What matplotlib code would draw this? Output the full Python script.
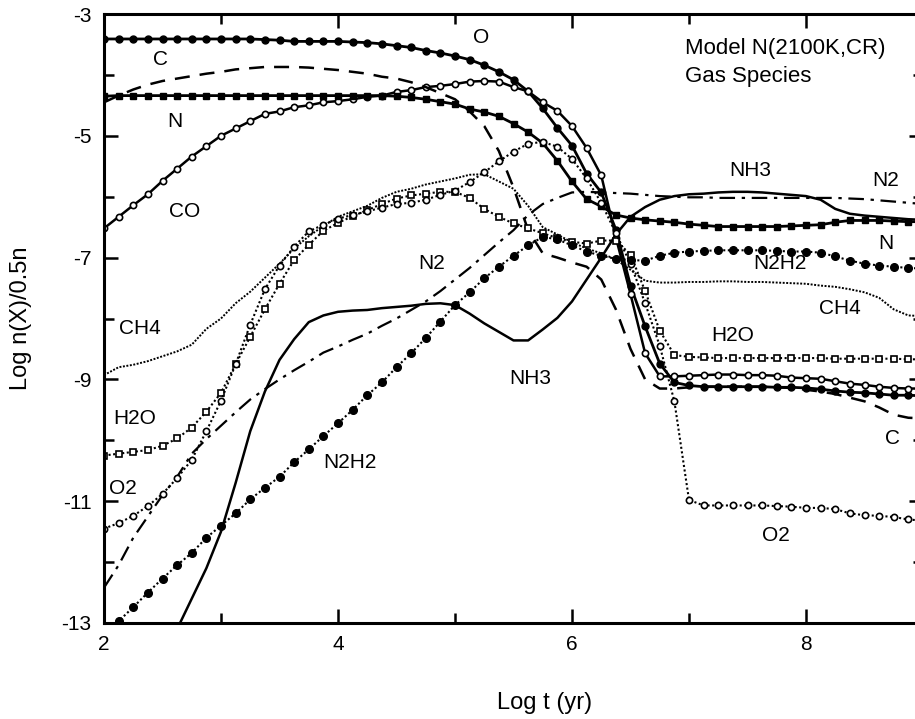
import numpy as np
import matplotlib
matplotlib.use("Agg")
import matplotlib.pyplot as plt
from matplotlib.ticker import MultipleLocator

plt.rcParams["axes.unicode_minus"] = False

# log t grid, 2.0 ... 9.0 in steps of 0.125
log_t = np.arange(2.0, 9.0001, 0.125)

O = [-3.41, -3.41, -3.41, -3.41, -3.41, -3.41, -3.41, -3.41,
     -3.41, -3.41, -3.41, -3.42, -3.43, -3.45, -3.45, -3.45,
     -3.45, -3.46, -3.47, -3.49, -3.52, -3.55, -3.60, -3.64,
     -3.69, -3.75, -3.84, -3.95, -4.08, -4.27, -4.55, -4.87,
     -5.16, -5.62, -5.93, -6.54, -7.46, -8.13, -8.74, -9.05,
     -9.10, -9.12, -9.12, -9.12, -9.12, -9.12, -9.13, -9.13,
     -9.14, -9.16, -9.19, -9.21, -9.22, -9.24, -9.26, -9.26,
     -9.27]

CO = [-6.52, -6.33, -6.14, -5.96, -5.74, -5.54, -5.34, -5.17,
      -5.00, -4.88, -4.76, -4.64, -4.60, -4.53, -4.50, -4.45,
      -4.43, -4.40, -4.36, -4.34, -4.28, -4.25, -4.20, -4.18,
      -4.15, -4.11, -4.10, -4.11, -4.20, -4.27, -4.45, -4.59,
      -4.84, -5.20, -5.65, -6.67, -7.60, -8.57, -8.95, -8.95,
      -8.94, -8.93, -8.92, -8.92, -8.93, -8.93, -8.94, -8.97,
      -8.98, -8.99, -9.03, -9.07, -9.09, -9.12, -9.14, -9.15,
      -9.15]

C = [-4.45, -4.34, -4.24, -4.16, -4.10, -4.06, -4.02, -3.98,
     -3.95, -3.91, -3.89, -3.87, -3.87, -3.87, -3.88, -3.90,
     -3.92, -3.95, -3.98, -4.03, -4.06, -4.12, -4.20, -4.30,
     -4.40, -4.60, -4.84, -5.25, -5.85, -6.55, -6.93, -7.00,
     -7.08, -7.15, -7.36, -7.85, -8.50, -9.00, -9.15, -9.15,
     -9.13, -9.12, -9.12, -9.12, -9.12, -9.12, -9.13, -9.14,
     -9.17, -9.20, -9.24, -9.30, -9.36, -9.46, -9.58, -9.63,
     -9.64]

N = [-4.35, -4.34, -4.34, -4.34, -4.34, -4.34, -4.34, -4.34,
     -4.34, -4.34, -4.34, -4.34, -4.34, -4.34, -4.34, -4.34,
     -4.34, -4.34, -4.34, -4.34, -4.35, -4.37, -4.40, -4.44,
     -4.48, -4.56, -4.61, -4.68, -4.80, -4.94, -5.12, -5.41,
     -5.75, -6.04, -6.16, -6.30, -6.35, -6.38, -6.40, -6.42,
     -6.45, -6.47, -6.49, -6.49, -6.49, -6.49, -6.49, -6.48,
     -6.47, -6.46, -6.42, -6.39, -6.39, -6.39, -6.40, -6.41,
     -6.41]

NH3 = [-16.5, -15.6, -14.8, -14.1, -13.5, -13.1, -12.6, -12.1,
       -11.5, -10.7, -9.85, -9.20, -8.68, -8.34, -8.06, -7.95,
       -7.89, -7.87, -7.86, -7.83, -7.81, -7.79, -7.76, -7.75,
       -7.78, -7.92, -8.08, -8.22, -8.36, -8.36, -8.18, -7.99,
       -7.72, -7.36, -7.00, -6.62, -6.33, -6.17, -6.05, -5.99,
       -5.96, -5.95, -5.93, -5.92, -5.92, -5.93, -5.95, -5.97,
       -5.99, -6.05, -6.20, -6.28, -6.31, -6.33, -6.35, -6.37,
       -6.38]

N2 = [-12.42, -12.05, -11.60, -11.25, -10.90, -10.60, -10.22, -9.98,
      -9.76, -9.54, -9.33, -9.16, -9.00, -8.85, -8.71, -8.56,
      -8.46, -8.35, -8.25, -8.12, -8.00, -7.86, -7.72, -7.55,
      -7.36, -7.17, -6.96, -6.75, -6.55, -6.30, -6.12, -6.02,
      -5.93, -5.92, -5.93, -5.94, -5.95, -5.97, -5.99, -6.00,
      -6.01, -6.01, -6.02, -6.02, -6.02, -6.02, -6.02, -6.02,
      -6.02, -6.02, -6.02, -6.03, -6.04, -6.06, -6.08, -6.10,
      -6.12]

N2H2 = [-13.30, -12.97, -12.74, -12.50, -12.27, -12.05, -11.85, -11.60,
        -11.40, -11.20, -10.97, -10.78, -10.60, -10.36, -10.15, -9.93,
        -9.72, -9.50, -9.26, -9.05, -8.80, -8.57, -8.32, -8.05,
        -7.78, -7.57, -7.34, -7.15, -6.97, -6.80, -6.66, -6.70,
        -6.80, -6.90, -6.97, -7.02, -7.04, -7.05, -6.97, -6.92,
        -6.90, -6.89, -6.88, -6.88, -6.88, -6.88, -6.89, -6.90,
        -6.90, -6.92, -6.98, -7.05, -7.10, -7.13, -7.15, -7.17,
        -7.18]

CH4 = [-8.93, -8.80, -8.76, -8.70, -8.62, -8.54, -8.43, -8.17,
       -8.00, -7.75, -7.56, -7.33, -7.10, -6.85, -6.65, -6.48,
       -6.33, -6.24, -6.15, -6.02, -5.92, -5.87, -5.80, -5.75,
       -5.70, -5.64, -5.63, -5.75, -5.87, -6.15, -6.50, -6.62,
       -6.75, -6.85, -6.93, -7.03, -7.20, -7.38, -7.41, -7.41,
       -7.40, -7.40, -7.39, -7.39, -7.40, -7.40, -7.41, -7.42,
       -7.43, -7.46, -7.48, -7.52, -7.57, -7.66, -7.85, -7.95,
       -7.96]

H2O = [-10.25, -10.22, -10.19, -10.16, -10.09, -9.97, -9.79, -9.53,
       -9.22, -8.75, -8.30, -7.85, -7.43, -7.04, -6.79, -6.56,
       -6.43, -6.32, -6.22, -6.12, -6.03, -5.98, -5.95, -5.92,
       -5.92, -6.02, -6.20, -6.33, -6.44, -6.52, -6.60, -6.68,
       -6.74, -6.77, -6.72, -6.72, -6.95, -7.55, -8.20, -8.60,
       -8.63, -8.64, -8.65, -8.65, -8.65, -8.65, -8.65, -8.65,
       -8.65, -8.65, -8.66, -8.66, -8.66, -8.66, -8.66, -8.67,
       -8.67]

O2 = [-11.45, -11.36, -11.24, -11.08, -10.88, -10.62, -10.32, -9.85,
      -9.35, -8.75, -8.10, -7.52, -7.13, -6.82, -6.57, -6.46,
      -6.36, -6.30, -6.24, -6.18, -6.12, -6.10, -6.05, -5.97,
      -5.90, -5.76, -5.60, -5.42, -5.26, -5.13, -5.10, -5.18,
      -5.38, -5.70, -6.10, -6.60, -7.10, -7.75, -8.45, -9.36,
      -10.98, -11.07, -11.07, -11.07, -11.07, -11.07, -11.08, -11.09,
      -11.11, -11.11, -11.13, -11.20, -11.23, -11.24, -11.26, -11.30,
      -11.32]

# curve labels: (text, log t, log n)
curve_labels = [
    ("O", 5.22, -3.38), ("C", 2.48, -3.74), ("N", 2.61, -4.77),
    ("CO", 2.69, -6.25), ("CH4", 2.31, -8.16), ("H2O", 2.26, -9.64),
    ("O2", 2.16, -10.79), ("N2", 4.80, -7.10), ("NH3", 5.64, -8.98),
    ("N2H2", 4.10, -10.36), ("NH3", 7.52, -5.57), ("N2", 8.68, -5.74),
    ("N", 8.68, -6.77), ("N2H2", 7.78, -7.10), ("CH4", 8.29, -7.84),
    ("H2O", 7.37, -8.28), ("C", 8.74, -9.97), ("O2", 7.74, -11.56),
]

SANS = ["Liberation Sans", "DejaVu Sans"]


def main():
    W, H = 915, 719
    fig = plt.figure(figsize=(W / 100, H / 100), dpi=100)
    ax = fig.add_axes([104 / W, (H - 623) / H, 819 / W, 609 / H])

    k = "black"
    # solid species with markers
    ax.plot(log_t, O, color=k, lw=2.0, marker="o", ms=5, mfc=k, mec=k)
    ax.plot(log_t, CO, color=k, lw=1.8, marker="o", ms=4.5, mfc="white", mec=k, mew=1.2)
    ax.plot(log_t, N, color=k, lw=2.0, marker="s", ms=4.5, mfc=k, mec=k)
    ax.plot(log_t, NH3, color=k, lw=1.8)
    ax.plot(log_t, C, color=k, lw=1.8, ls=(0, (6, 4)))
    ax.plot(log_t, N2, color=k, lw=1.6, ls=(0, (7, 3, 1.5, 3)))
    ax.plot(log_t, CH4, color=k, lw=1.4, ls=(0, (1, 0.8)))
    # dotted species with markers
    ax.plot(log_t, H2O, color=k, lw=1.5, ls=(0, (1, 1.2)), marker="s", ms=4.5,
            mfc="white", mec=k, mew=1.2)
    ax.plot(log_t, O2, color=k, lw=1.5, ls=(0, (1, 1.2)), marker="o", ms=4.5,
            mfc="white", mec=k, mew=1.2)
    ax.plot(log_t, N2H2, color=k, lw=1.5, ls=(0, (1, 1.2)), marker="o", ms=5.5,
            mfc=k, mec=k)

    for txt, x, y in curve_labels:
        ax.text(x, y, txt, ha="center", va="center", fontsize=15, family=SANS)

    ax.text(6.97, -3.57, "Model N(2100K,CR)", ha="left", va="center",
            fontsize=16, family=SANS)
    ax.text(6.97, -4.02, "Gas Species", ha="left", va="center",
            fontsize=16, family=SANS)

    ax.set_xlim(2, 9)
    ax.set_ylim(-13, -3)
    ax.xaxis.set_major_locator(MultipleLocator(2))
    ax.xaxis.set_minor_locator(MultipleLocator(1))
    ax.yaxis.set_minor_locator(MultipleLocator(1))
    ax.set_yticks(np.arange(-13, -2, 2))
    ax.tick_params(which="both", direction="in", top=True, right=True, width=1.8,
                   labelsize=15, colors=k)
    ax.tick_params(which="major", length=10, pad=9)
    ax.tick_params(which="minor", length=7)
    for lab in ax.get_xticklabels() + ax.get_yticklabels():
        lab.set_family(SANS)
    for sp in ax.spines.values():
        sp.set_linewidth(2.2)

    ax.set_xlabel("Log t (yr)", fontsize=17, family=SANS)
    ax.set_ylabel("Log n(X)/0.5n", fontsize=17, family=SANS)
    ax.xaxis.set_label_coords(0.538, -0.113)
    ax.yaxis.set_label_coords(-0.088, 0.5)

    fig.savefig("out.png", dpi=100)
    plt.close(fig)


if __name__ == "__main__":
    main()
